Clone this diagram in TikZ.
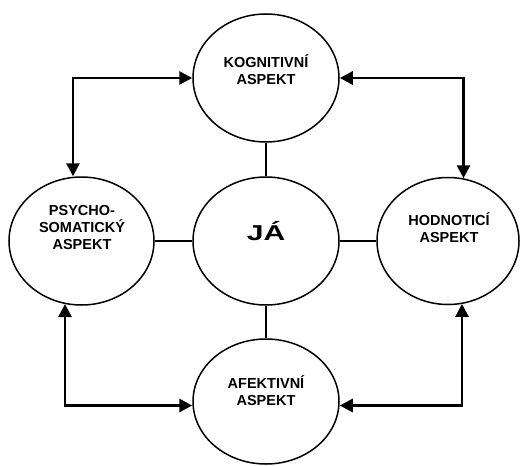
\documentclass[tikz,border=0pt]{standalone}
\usepackage{fontspec}
\setmainfont{Liberation Sans}
\usetikzlibrary{shapes.geometric,arrows.meta}
\begin{document}
\begin{tikzpicture}[x=1pt,y=-1pt,
  aspect/.style={ellipse,draw,line width=1.5pt,inner sep=0pt,
    minimum width=146pt,minimum height=128pt},
  lbl/.style={font=\fontsize{14.5}{17}\selectfont\bfseries,align=center,inner sep=0pt},
  link/.style={line width=2.2pt},
  twoway/.style={line width=2.8pt,
    {Triangle[length=13pt,width=13pt]}-{Triangle[length=13pt,width=13pt]}}]
\useasboundingbox (0,0) rectangle (521,465);

% the five aspects
\node[aspect] (K) at (266,78) {};
\node[aspect] (J) at (266,241) {};
\node[aspect,minimum height=125pt] (A) at (266,401.5) {};
\node[aspect,minimum width=145pt] (P) at (81.5,241) {};
\node[aspect,minimum width=142pt,minimum height=127pt] (H) at (448,241) {};

% texts
\node[lbl] (Kt) at (266,70) {KOGNITIVNÍ\\ASPEKT};
\node[lbl] (At) at (266,391) {AFEKTIVNÍ\\ASPEKT};
\node[lbl] (Pt) at (82,228) {PSYCHO-\\SOMATICKÝ\\ASPEKT};
\node[lbl] (Ht) at (449,228) {HODNOTICÍ\\ASPEKT};
\node[inner sep=0pt,font=\fontsize{21.5}{24}\selectfont\bfseries] (Jt) at (266,231)
  {\scalebox{1.4}[1]{JÁ}};

% links to the self
\draw[link] (K.south) -- (J.north);
\draw[link] (J.south) -- (A.north);
\draw[link] (P.east) -- (J.west);
\draw[link] (J.east) -- (H.west);

% corners of the outer loop
\coordinate (cTL) at (73,78);
\coordinate (cTR) at (463.5,78);
\coordinate (cBL) at (65,405.5);
\coordinate (cBR) at (462,405.5);

\draw[twoway] (K.west) -- (cTL) -- (cTL |- P.north);
\draw[twoway] (K.east) -- (cTR) -- ([yshift=-1.5pt]cTR |- H.north);
\draw[twoway] ([yshift=1.7pt]cBL |- P.south) -- (cBL) -- (cBL -| A.west);
\draw[twoway] ([yshift=1.3pt]cBR |- H.south) -- (cBR) -- (cBR -| A.east);
\end{tikzpicture}
\end{document}
